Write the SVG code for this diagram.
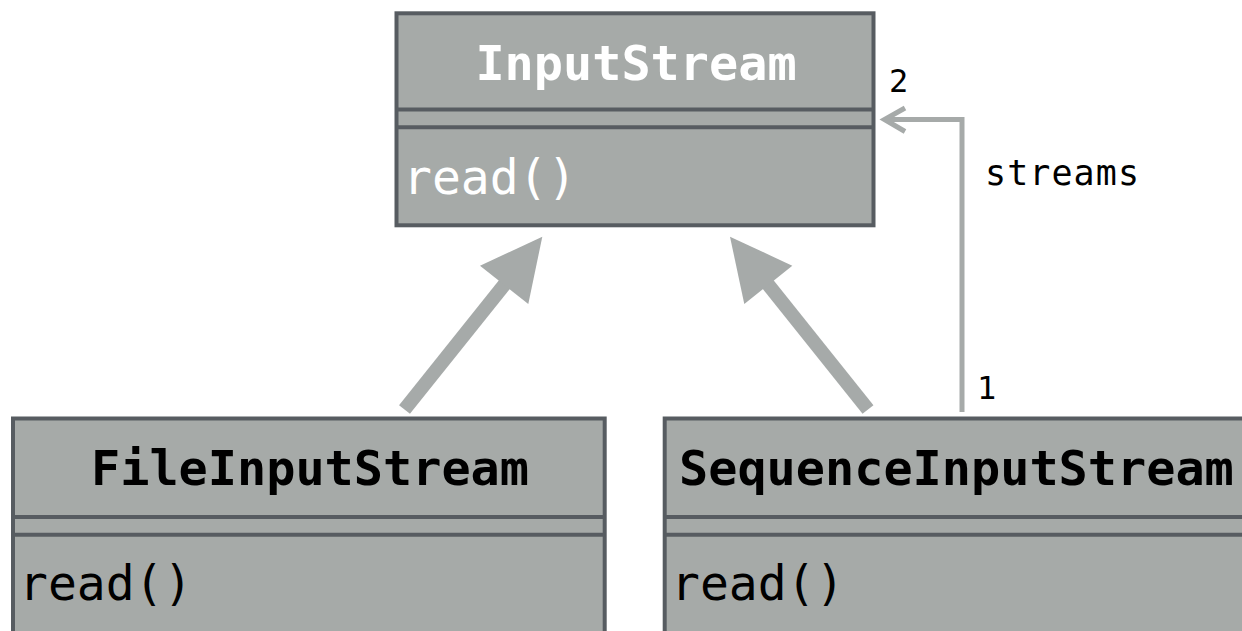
<svg xmlns="http://www.w3.org/2000/svg" width="1242" height="631" viewBox="0 0 1242 631">
  <style>
    .box { fill: #a6aaa8; stroke: #575c61; stroke-width: 4; }
    .sep { stroke: #575c61; stroke-width: 4; fill: none; }
    .title { font-family: "DejaVu Sans Mono", "Liberation Mono", monospace; font-size: 48.5px; font-weight: bold; }
    .member { font-family: "DejaVu Sans Mono", "Liberation Mono", monospace; font-size: 48px; }
    .label { font-family: "DejaVu Sans Mono", "Liberation Mono", monospace; font-size: 32px; fill: #000; }
    .light { fill: #ffffff; }
    .dark { fill: #000000; }
    .inherit { stroke: #a6aaa9; stroke-width: 14; fill: none; }
    .inherit-head { fill: #a6aaa9; }
    .assoc { stroke: #a6aaa9; stroke-width: 5; fill: none; }
  </style>

  <rect width="1242" height="631" fill="#ffffff"/>

  <!-- connectors -->
  <g id="connectors">
    <!-- FileInputStream extends InputStream -->
    <line class="inherit" x1="404.5" y1="409.5" x2="508" y2="280"/>
    <polygon class="inherit-head" points="542.3,236.7 480,265.7 528.3,304"/>
    <!-- SequenceInputStream extends InputStream -->
    <line class="inherit" x1="868" y1="409.5" x2="764.5" y2="280"/>
    <polygon class="inherit-head" points="730,236.7 744.3,304 792.3,265.7"/>
    <!-- streams association -->
    <polyline class="assoc" points="962,412 962,119.5 884,119.5"/>
    <polyline class="assoc" points="905,108 884.5,119.5 905,131.5"/>
    <text class="label" x="889" y="92">2</text>
    <text class="label" x="977" y="399">1</text>
    <text class="label" x="985" y="185" style="font-size:35px" textLength="154" lengthAdjust="spacing">streams</text>
  </g>

  <!-- InputStream -->
  <g id="InputStream">
    <rect class="box" x="396.5" y="13.3" width="477" height="212"/>
    <line class="sep" x1="396.5" y1="109.5" x2="873.5" y2="109.5"/>
    <line class="sep" x1="396.5" y1="127.2" x2="873.5" y2="127.2"/>
    <text class="title light" x="636" y="79.5" text-anchor="middle">InputStream</text>
    <text class="member light" x="403" y="193.5">read()</text>
  </g>

  <!-- FileInputStream -->
  <g id="FileInputStream">
    <rect class="box" x="13" y="418.5" width="591.7" height="250"/>
    <line class="sep" x1="13" y1="517" x2="604.7" y2="517"/>
    <line class="sep" x1="13" y1="534.7" x2="604.7" y2="534.7"/>
    <text class="title dark" x="310" y="485" text-anchor="middle">FileInputStream</text>
    <text class="member dark" x="19" y="600">read()</text>
  </g>

  <!-- SequenceInputStream -->
  <g id="SequenceInputStream">
    <rect class="box" x="664.7" y="418.5" width="591.7" height="250"/>
    <line class="sep" x1="664.7" y1="517" x2="1256.4" y2="517"/>
    <line class="sep" x1="664.7" y1="534.7" x2="1256.4" y2="534.7"/>
    <text class="title dark" x="679" y="485">SequenceInputStream</text>
    <text class="member dark" x="671" y="600">read()</text>
  </g>
</svg>
